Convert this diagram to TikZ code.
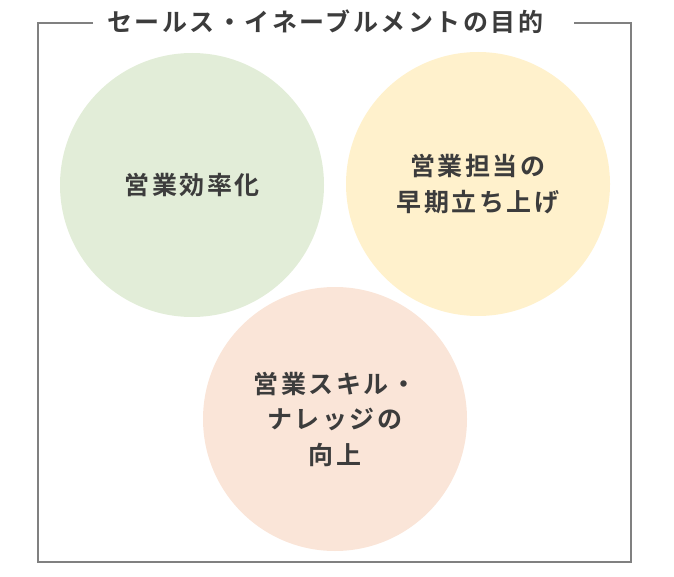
\documentclass[tikz,border=0pt]{standalone}
\usepackage{fontspec}
\newfontfamily\jpfont{Noto Sans CJK JP}[BoldFont={* Bold},LetterSpace=10]
\usepackage{xcolor}
\definecolor{framegray}{HTML}{808080}
\definecolor{textdark}{HTML}{3C3C3C}
\definecolor{goalgreen}{HTML}{E2EDD8}
\definecolor{goalyellow}{HTML}{FFF1CC}
\definecolor{goalpeach}{HTML}{FAE5D8}
\usetikzlibrary{positioning, calc}

\begin{document}
\begin{tikzpicture}[
        x=1pt, y=-1pt,
        font=\jpfont\bfseries\fontsize{25pt}{35.5pt}\selectfont,
        goal_circle/.style={
            circle,
            draw=none,
            minimum size=264pt,
            inner sep=0pt,
            align=center,
            text=textdark
        },
        frame_line/.style={
            draw=framegray,
            line width=2pt
        },
        title_node/.style={
            anchor=west,
            fill=white,
            inner xsep=14pt,
            inner ysep=2pt,
            text=textdark
        }
    ]
    \useasboundingbox (0,0) rectangle (674,577);

    % Goal circles
    \node[goal_circle, fill=goalgreen] (efficiency) at (192,185) {営業効率化};
    \node[goal_circle, fill=goalyellow] (onboarding) at (478,184) {営業担当の\\早期立ち上げ};
    \node[goal_circle, fill=goalpeach] (skill) at (335,419) {営業スキル・\\ナレッジの\\向上};

    % Frame with title
    \node[title_node] (title) at (93,22) {セールス・イネーブルメントの目的};
    \coordinate (frame_nw) at (38,23);
    \coordinate (frame_se) at (631,562);
    \draw[frame_line] (title.west |- frame_nw) -- (frame_nw) |- (frame_se) |- ([xshift=17pt]title.east |- frame_nw);

    \end{tikzpicture}
\end{document}
